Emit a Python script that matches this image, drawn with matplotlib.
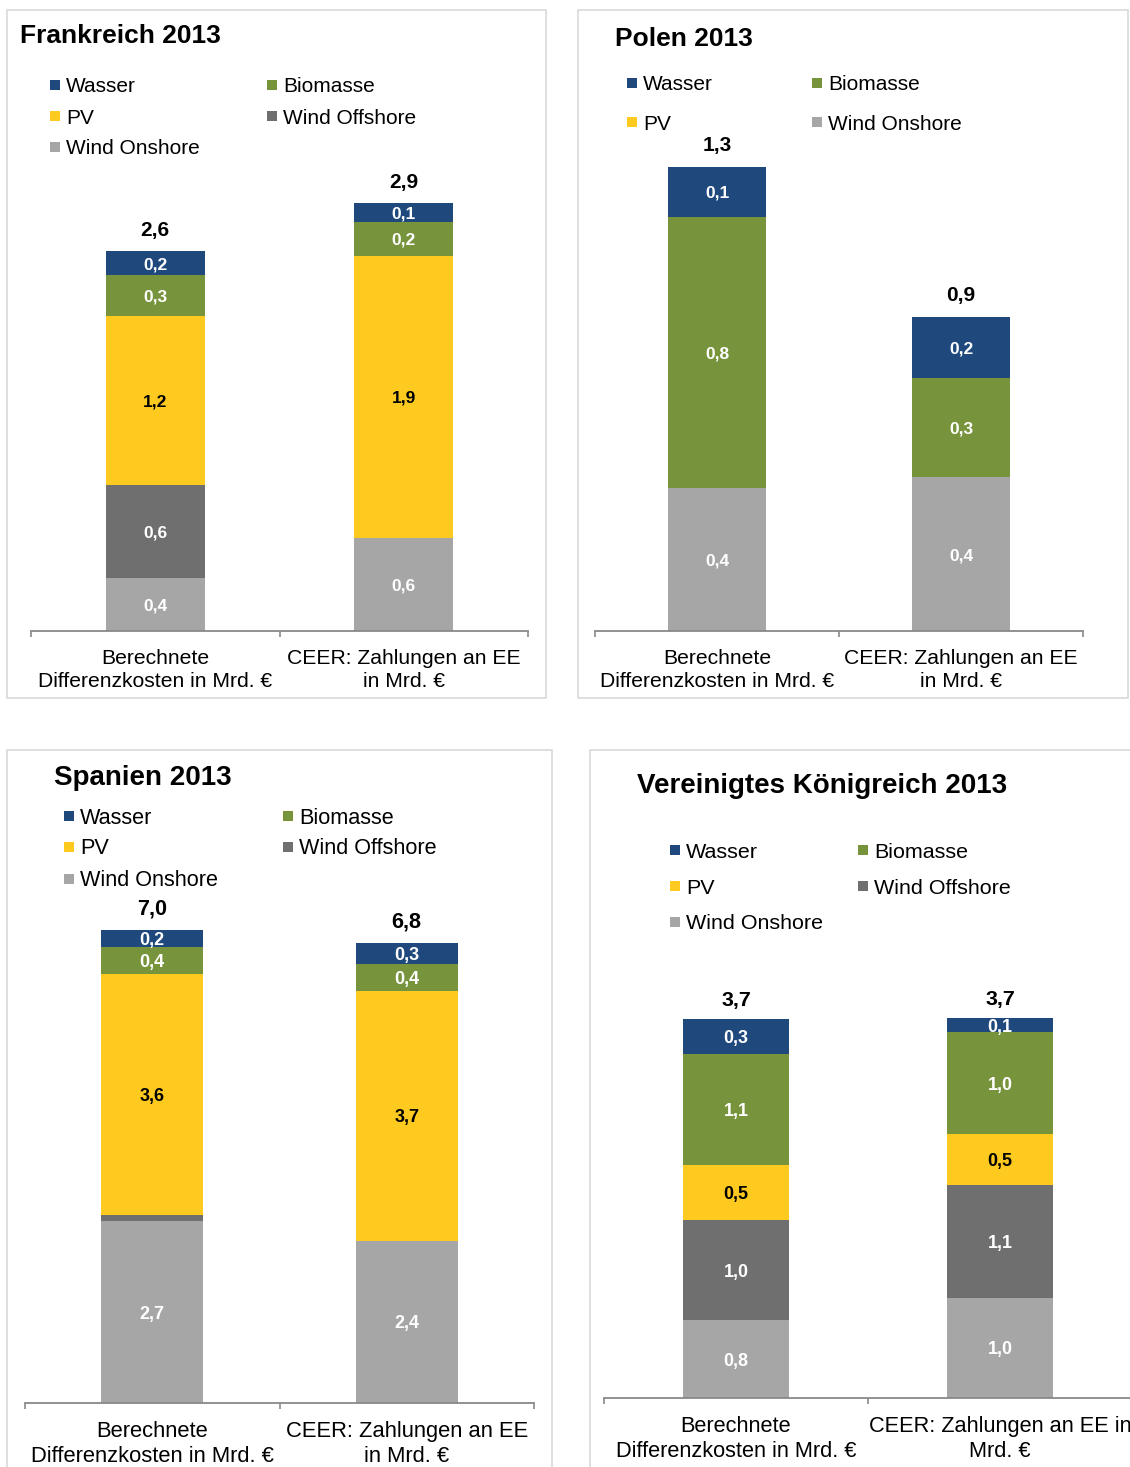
import matplotlib.pyplot as plt
from matplotlib.patches import Rectangle

plt.rcParams['font.family'] = ['Liberation Sans', 'DejaVu Sans']

W, H = 1130, 1467

# stacking order from the bottom up
sources = ['Wind Onshore', 'Wind Offshore', 'PV', 'Biomasse', 'Wasser']
colors = ['#A6A6A6', '#6F6F6F', '#FFCA1F', '#77933C', '#1F497D']
label_colors = ['white', 'white', 'black', 'white', 'white']

categories = ['Berechnete\nDifferenzkosten in Mrd. €', 'CEER: Zahlungen an EE\nin Mrd. €']
categories_uk = ['Berechnete\nDifferenzkosten in Mrd. €', 'CEER: Zahlungen an EE in\nMrd. €']

# Mrd. € per source: Wind Onshore, Wind Offshore, PV, Biomasse, Wasser
frankreich_calc = [0.36, 0.64, 1.16, 0.28, 0.16]
frankreich_ceer = [0.64, 0.00, 1.93, 0.23, 0.13]
polen_calc = [0.40, 0.00, 0.00, 0.76, 0.14]
polen_ceer = [0.43, 0.00, 0.00, 0.28, 0.17]
spanien_calc = [2.69, 0.09, 3.57, 0.40, 0.24]
spanien_ceer = [2.40, 0.00, 3.70, 0.40, 0.31]
uk_calc = [0.76, 0.98, 0.54, 1.08, 0.34]
uk_ceer = [0.98, 1.10, 0.50, 0.99, 0.14]

legend_full = ['Wasser', 'Biomasse', 'PV', 'Wind Offshore', 'Wind Onshore']
legend_polen = ['Wasser', 'Biomasse', 'PV', 'Wind Onshore']

fig = plt.figure(figsize=(W / 100, H / 100), dpi=100)


def fig_rect(x0, y0, x1, y1):
    return [x0 / W, 1 - y1 / H, (x1 - x0) / W, (y1 - y0) / H]


def fmt(v):
    return f'{v:.1f}'.replace('.', ',')


def draw_panel(title, calc, ceer, legend_items, frame, title_pos, title_fs,
               leg_cols, leg_rows, axis, fs=1.0, cats=categories, total_off=21):
    x0, y0, x1, y1 = frame
    fig.add_artist(Rectangle((x0 / W, 1 - y1 / H), (x1 - x0) / W, (y1 - y0) / H,
                             transform=fig.transFigure, fill=False,
                             edgecolor='#D9D9D9', lw=1.2))
    fig.text(title_pos[0] / W, 1 - (title_pos[1] + 2) / H, title, fontsize=title_fs,
             fontweight='bold', ha='left', va='center')

    # legend, two columns filled row by row
    for k, name in enumerate(legend_items):
        lx = leg_cols[k % 2]
        ly = leg_rows[k // 2]
        c = colors[sources.index(name)]
        fig.add_artist(Rectangle((lx / W, 1 - (ly + 5) / H), 10 / W, 10 / H,
                                 transform=fig.transFigure, facecolor=c,
                                 edgecolor='none'))
        fig.text((lx + 16) / W, 1 - (ly + 2) / H, name, fontsize=15 * fs,
                 ha='left', va='center')

    ax_left, ax_right, base, pxu = axis
    top = y0 + 40
    ax = fig.add_axes(fig_rect(ax_left, top, ax_right, base))
    ax.set_xlim(-0.5, 1.5)
    ax.set_ylim(0, (base - top) / pxu)

    for i, vals in enumerate([calc, ceer]):
        bottom = 0
        for j, v in enumerate(vals):
            if v <= 0:
                continue
            ax.bar(i, v, width=0.4, bottom=bottom, color=colors[j], edgecolor='none')
            if v >= 0.1:
                ax.text(i, bottom + v / 2, fmt(v), ha='center', va='center_baseline',
                        color=label_colors[j], fontsize=12.5 * fs, fontweight='bold')
            bottom += v
        ax.annotate(fmt(bottom), xy=(i, bottom), xytext=(0, total_off),
                    textcoords='offset pixels', ha='center', va='center',
                    fontsize=15 * fs, fontweight='bold')

    for s in ['top', 'left', 'right']:
        ax.spines[s].set_visible(False)
    ax.spines['bottom'].set_color('#898989')
    ax.spines['bottom'].set_linewidth(1.3)
    ax.set_yticks([])
    ax.set_xticks([0, 1])
    ax.set_xticklabels(cats, fontsize=15.2 * fs, linespacing=1.26)
    ax.tick_params(axis='x', which='major', length=0, pad=13)
    ax.set_xticks([-0.5, 0.5, 1.5], minor=True)
    ax.tick_params(axis='x', which='minor', length=4, width=1.2,
                   color='#898989', direction='out')
    ax.patch.set_alpha(0)
    return ax


draw_panel('Frankreich 2013', frankreich_calc, frankreich_ceer, legend_full,
           (7, 10, 546, 698), (20, 34), 19, (50, 267), (85, 116, 147),
           (31, 528, 631, 146))
draw_panel('Polen 2013', polen_calc, polen_ceer, legend_polen,
           (578, 10, 1128, 698), (615, 37), 19, (627, 812), (83, 122),
           (595, 1083, 631, 357))
draw_panel('Spanien 2013', spanien_calc, spanien_ceer, legend_full,
           (7, 750, 552, 1490), (54, 776), 20, (64, 283), (816, 847, 879),
           (25, 534, 1403, 67.6), fs=1.04)
draw_panel('Vereinigtes Königreich 2013', uk_calc, uk_ceer, legend_full,
           (590, 750, 1150, 1490), (637, 784), 20, (670, 858), (850, 886, 922),
           (604, 1132, 1398, 102.4), fs=1.03, cats=categories_uk, total_off=19)

fig.savefig('out.png', dpi=100)
